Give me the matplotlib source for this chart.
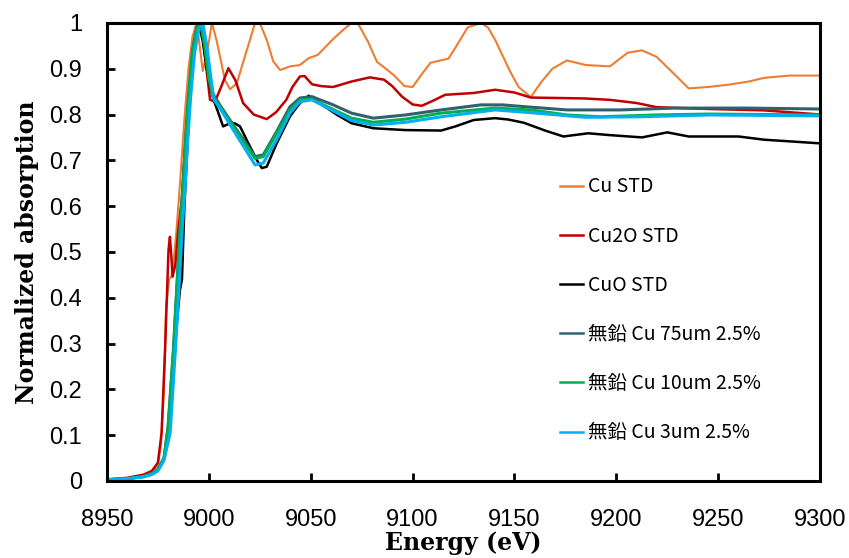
import matplotlib
matplotlib.use("Agg")
import matplotlib.pyplot as plt

# Cu K-edge XANES, normalized
cu_e = [8950, 8960, 8968, 8972, 8975, 8976.5, 8978, 8979, 8980.5, 8982, 8984, 8986, 8988, 8990,
        8992, 8994, 8995.5, 8997, 8999, 9001.5, 9003.9, 9007.9, 9010.4, 9013.7, 9018.6, 9022.7,
        9025, 9028.4, 9031.6, 9035, 9039.8, 9044.7, 9049, 9053.4, 9061.3, 9066, 9070, 9073, 9078,
        9082.5, 9087.7, 9091, 9096, 9100, 9104, 9108.8, 9117.6, 9121, 9127, 9133.5, 9137, 9140.5,
        9147.5, 9152, 9158, 9163, 9168.6, 9175.7, 9185, 9196.8, 9205.6, 9212.6, 9219.7, 9228,
        9235.5, 9245, 9254.9, 9265, 9272.5, 9285, 9300]
cu_y = [0.003, 0.006, 0.012, 0.02, 0.035, 0.08, 0.2, 0.38, 0.44, 0.45, 0.54, 0.66, 0.79, 0.9,
        0.97, 1.0, 0.95, 0.895, 0.93, 1.0, 0.96, 0.875, 0.855, 0.868, 0.94, 1.0,
        1.0, 0.963, 0.916, 0.897, 0.905, 0.908, 0.923, 0.93, 0.966, 0.985, 1.0, 1.0, 0.96,
        0.915, 0.897, 0.885, 0.862, 0.86, 0.885, 0.913, 0.922, 0.946, 0.99, 1.0, 0.99, 0.963,
        0.897, 0.86, 0.838, 0.87, 0.9, 0.918, 0.908, 0.905, 0.935, 0.94, 0.926, 0.89,
        0.857, 0.86, 0.865, 0.872, 0.88, 0.885, 0.885]

cu2o_e = [8950, 8960, 8968, 8972, 8975, 8976.8, 8978.5, 8980.2, 8980.9, 8981.6, 8982.2, 8983.5,
          8985, 8986.7, 8989, 8991, 8993, 8995, 8996.5, 8998, 9000.6, 9003, 9006, 9009.6, 9013,
          9016.8, 9022, 9028.4, 9033, 9038, 9041, 9044.7, 9047, 9050.6, 9055, 9061, 9070, 9079,
          9086, 9090, 9094.8, 9100, 9104.5, 9110, 9116, 9130, 9140.5, 9150, 9158, 9184.5,
          9196.8, 9210, 9219.7, 9246, 9272.5, 9300]
cu2o_y = [0.003, 0.007, 0.014, 0.022, 0.04, 0.105, 0.286, 0.504, 0.533, 0.49, 0.446, 0.47,
          0.548, 0.614, 0.78, 0.88, 0.95, 0.99, 1.0, 0.93, 0.832, 0.828, 0.86, 0.901, 0.875,
          0.825, 0.8, 0.79, 0.805, 0.832, 0.86, 0.883, 0.884, 0.866, 0.862, 0.86, 0.872, 0.881,
          0.876, 0.862, 0.839, 0.822, 0.819, 0.83, 0.843, 0.847, 0.854, 0.848, 0.837, 0.835,
          0.832, 0.825, 0.816, 0.812, 0.809, 0.8]

cuo_e = [8950, 8960, 8968, 8972, 8975, 8978, 8980, 8982, 8984, 8985.8, 8986.8, 8988, 8990, 8992,
         8994, 8995.5, 8997, 8999, 9000.6, 9002.5, 9004.7, 9007, 9009, 9011.2, 9013, 9015.3,
         9019.4, 9023.5, 9026, 9028.4, 9033.3, 9039.8, 9044.7, 9049, 9054.3, 9063, 9070, 9080.7,
         9096.5, 9114, 9121, 9130, 9140.5, 9147, 9154.6, 9165, 9174, 9186.2, 9196.8, 9212.6,
         9225, 9235.5, 9260, 9272.5, 9300]
cuo_y = [0.002, 0.005, 0.01, 0.016, 0.025, 0.05, 0.1, 0.2, 0.33, 0.417, 0.44, 0.6, 0.78, 0.91,
         0.975, 0.99, 0.96, 0.9, 0.861, 0.83, 0.803, 0.774, 0.778, 0.782, 0.78, 0.774,
         0.737, 0.701, 0.683, 0.686, 0.737, 0.796, 0.825, 0.841, 0.825, 0.799, 0.781, 0.77,
         0.766, 0.765, 0.774, 0.788, 0.792, 0.789, 0.782, 0.765, 0.752, 0.759, 0.755, 0.75,
         0.761, 0.752, 0.752, 0.745, 0.737]

s75_e = [8950, 8960, 8968, 8972, 8975, 8978, 8980, 8982.6, 8984.2, 8986, 8987.4, 8988.3, 8990,
         8992, 8994, 8996, 8998, 9000, 9002, 9005.5, 9012, 9018.6, 9022.7, 9026.7, 9033.3,
         9039.8, 9044.7, 9050.6, 9061, 9070, 9080.7, 9096.5, 9114, 9133.5, 9144, 9158, 9175.7,
         9202, 9228.4, 9263.7, 9300]
s75_y = [0.003, 0.005, 0.01, 0.016, 0.025, 0.05, 0.12, 0.286, 0.417, 0.56, 0.65, 0.723, 0.84,
         0.94, 0.99, 1.0, 0.95, 0.88, 0.845, 0.82, 0.777, 0.735, 0.708, 0.712, 0.763,
         0.817, 0.836, 0.839, 0.821, 0.803, 0.792, 0.799, 0.81, 0.821, 0.821, 0.816, 0.81,
         0.81, 0.814, 0.814, 0.812]

s10_e = [8950, 8960, 8968, 8972, 8975, 8978, 8980, 8982.6, 8984.2, 8986, 8987.4, 8988.3, 8990,
         8992, 8994, 8996, 8998, 9000, 9002, 9005.5, 9012, 9018.6, 9022.7, 9026.7, 9033.3,
         9039.8, 9044.7, 9050.6, 9070, 9080.7, 9096.5, 9114, 9140.5, 9158, 9175.7, 9192,
         9219.7, 9246, 9300]
s10_y = [0.003, 0.005, 0.01, 0.016, 0.025, 0.05, 0.115, 0.28, 0.41, 0.555, 0.645, 0.72, 0.835,
         0.935, 0.985, 1.0, 0.95, 0.88, 0.839, 0.817, 0.774, 0.73, 0.704, 0.708, 0.759,
         0.81, 0.832, 0.833, 0.792, 0.783, 0.79, 0.803, 0.814, 0.81, 0.799, 0.795,
         0.799, 0.801, 0.799]

s3_e = [8950, 8960, 8968, 8972, 8975, 8978, 8981, 8983.5, 8985.2, 8987, 8988.4, 8989.3, 8991,
        8993, 8995, 8997, 8999, 9001, 9002.5, 9006, 9012, 9018.6, 9022.7, 9026.7, 9033.3,
        9039.8, 9044.7, 9050.6, 9070, 9080.7, 9096.5, 9114, 9140.5, 9158, 9184.5, 9211,
        9246, 9300]
s3_y = [0.003, 0.005, 0.009, 0.014, 0.022, 0.045, 0.105, 0.28, 0.41, 0.555, 0.645, 0.72, 0.835,
        0.935, 0.985, 1.0, 0.95, 0.88, 0.832, 0.81, 0.766, 0.719, 0.69, 0.694, 0.745,
        0.803, 0.828, 0.832, 0.787, 0.777, 0.783, 0.795, 0.81, 0.804, 0.794, 0.795,
        0.799, 0.797]

labels = ["Cu STD", "Cu2O STD", "CuO STD",
          "無鉛 Cu 75um 2.5%", "無鉛 Cu 10um 2.5%", "無鉛 Cu 3um 2.5%"]

x_ticks = [8950, 9000, 9050, 9100, 9150, 9200, 9250, 9300]
y_ticks = [0, 0.1, 0.2, 0.3, 0.4, 0.5, 0.6, 0.7, 0.8, 0.9, 1]
y_tick_labels = ["0", "0.1", "0.2", "0.3", "0.4", "0.5", "0.6", "0.7", "0.8", "0.9", "1"]

fig = plt.figure(figsize=(8.49, 5.58), dpi=100)
ax = fig.add_axes([0.126, 0.138, 0.84, 0.821])

ax.plot(cu_e, cu_y, color="#ED7D31", lw=1.5, label=labels[0])
ax.plot(cu2o_e, cu2o_y, color="#C00000", lw=1.8, label=labels[1])
ax.plot(cuo_e, cuo_y, color="#000000", lw=1.8, label=labels[2])
ax.plot(s75_e, s75_y, color="#31606E", lw=2.2, label=labels[3])
ax.plot(s10_e, s10_y, color="#00B050", lw=2.2, label=labels[4])
ax.plot(s3_e, s3_y, color="#00B0F0", lw=2.2, label=labels[5])

ax.set_xlim(8950, 9300)
ax.set_ylim(0, 1)
ax.set_xticks(x_ticks)
ax.set_yticks(y_ticks)
ax.set_yticklabels(y_tick_labels)

for sp in ax.spines.values():
    sp.set_linewidth(2.2)
    sp.set_color("black")
ax.tick_params(direction="in", length=6, width=2, labelsize=17)
ax.tick_params(axis="y", pad=18)
ax.tick_params(axis="x", pad=20)
for t in ax.get_xticklabels() + ax.get_yticklabels():
    t.set_fontfamily(["Liberation Sans", "DejaVu Sans"])

ax.set_xlabel("Energy (eV)", fontfamily="DejaVu Serif", fontweight="bold", fontsize=17, labelpad=0)
ax.set_ylabel("Normalized absorption", fontfamily="DejaVu Serif", fontweight="bold", fontsize=17,
              labelpad=7)

leg = ax.legend(loc="upper left", bbox_to_anchor=(0.635, 0.665), frameon=False,
                borderpad=0, borderaxespad=0, handlelength=1.2, handletextpad=0.25,
                labelspacing=1.45, prop={"family": ["Noto Sans CJK JP", "DejaVu Sans"], "size": 14})
for h in leg.get_lines():
    h.set_linewidth(1.8)

fig.savefig("out.png", dpi=100)
